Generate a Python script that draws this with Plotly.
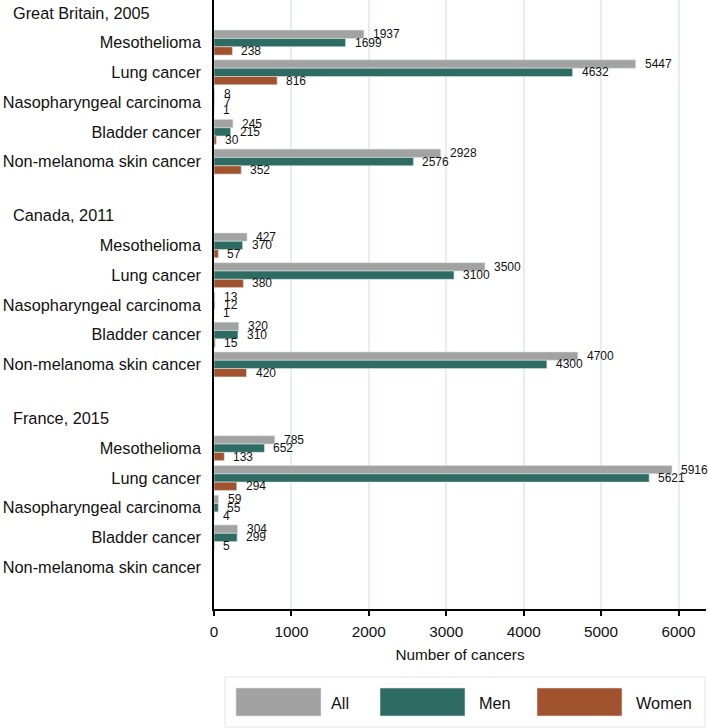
import plotly.graph_objects as go

# ---------------- data ----------------
groups = ["Great Britain, 2005", "Canada, 2011", "France, 2015"]
cancers = ["Mesothelioma", "Lung cancer", "Nasopharyngeal carcinoma",
           "Bladder cancer", "Non-melanoma skin cancer"]
series_names = ["All", "Men", "Women"]
colors = ["#a2a2a2", "#2e6c63", "#a0532e"]

all_gb = [1937, 5447, 8, 245, 2928]
men_gb = [1699, 4632, 7, 215, 2576]
women_gb = [238, 816, 1, 30, 352]

all_ca = [427, 3500, 13, 320, 4700]
men_ca = [370, 3100, 12, 310, 4300]
women_ca = [57, 380, 1, 15, 420]

all_fr = [785, 5916, 59, 304, None]
men_fr = [652, 5621, 55, 299, None]
women_fr = [133, 294, 4, 5, None]

x_ticks = [0, 1000, 2000, 3000, 4000, 5000, 6000]
x_title = "Number of cancers"

# ---------------- layout geometry ----------------
W, H = 709, 728
ML, MR, MT, MB = 214, 3, 0, 119
PW, PH = W - ML - MR, H - MT - MB

first_pos = 42.6      # y-axis units = pixels from top of plot
step = 29.75
period = 202.8
header_off = 30.0
bargap = 0.16
bar_w = step * (1 - bargap) / 3

series_data = [
    [all_gb, all_ca, all_fr],
    [men_gb, men_ca, men_fr],
    [women_gb, women_ca, women_fr],
]

ypos, ynames = [], []
for g in range(len(groups)):
    for i, c in enumerate(cancers):
        ypos.append(first_pos + g * period + i * step)
        ynames.append(c)

fig = go.Figure()
annotations = []
for k, name in enumerate(series_names):
    vals = []
    for g in range(len(groups)):
        vals.extend(series_data[k][g])
    fig.add_trace(go.Bar(
        x=vals, y=ypos, orientation="h", name=name,
        marker=dict(color=colors[k], line=dict(color="#d6e6e6", width=0.6)),
        showlegend=False, hoverinfo="x",
    ))
    for v, p in zip(vals, ypos):
        if v is None:
            continue
        annotations.append(dict(
            x=v, y=p + (k - 1) * bar_w, xref="x", yref="y",
            text=str(v), showarrow=False, xanchor="left", yanchor="middle",
            xshift=7, font=dict(size=12, color="#111111"),
        ))

# group headers
for g, gname in enumerate(groups):
    annotations.append(dict(
        x=(11 - ML) / PW, y=first_pos + g * period - header_off,
        xref="paper", yref="y", text=gname, showarrow=False,
        xanchor="left", yanchor="middle", font=dict(size=16.3, color="#111111"),
    ))

def px(xp):
    return (xp - ML) / PW

def py(yp):
    return (MT + PH - yp) / PH

shapes = []
# legend box
shapes.append(dict(type="rect", xref="paper", yref="paper",
                   x0=px(225), x1=px(705), y0=py(727), y1=py(677),
                   line=dict(color="#e4e4e4", width=1), fillcolor="white"))
sw_x = [236, 380, 537]
tx_x = [329, 477, 634]
for k, name in enumerate(series_names):
    shapes.append(dict(type="rect", xref="paper", yref="paper",
                       x0=px(sw_x[k]), x1=px(sw_x[k] + 85), y0=py(716), y1=py(688),
                       line=dict(color="#e0e0e0", width=0.6), fillcolor=colors[k]))
    annotations.append(dict(x=px(tx_x[k]), y=py(702.5), xref="paper", yref="paper",
                            text=name, showarrow=False, xanchor="left", yanchor="middle",
                            font=dict(size=16.3, color="#111111")))

fig.update_layout(
    width=W, height=H,
    margin=dict(l=ML, r=MR, t=MT, b=MB, pad=0, autoexpand=False),
    barmode="group", bargap=bargap, bargroupgap=0,
    plot_bgcolor="white", paper_bgcolor="white",
    font=dict(family="Liberation Sans, Arial, sans-serif", color="#111111"),
    annotations=annotations, shapes=shapes,
)
fig.update_xaxes(
    range=[0, 6355], tickvals=x_ticks, ticktext=[str(t) for t in x_ticks],
    showgrid=True, gridcolor="#e2eef0", gridwidth=1.5,
    showline=True, linecolor="black", linewidth=1.5,
    ticks="outside", ticklen=5, tickwidth=1.5, tickcolor="black",
    ticklabelstandoff=3,
    tickfont=dict(size=15.3), zeroline=False, automargin=False,
    title=dict(text=x_title, font=dict(size=15.3), standoff=10),
)
fig.update_yaxes(
    range=[PH, 0], tickvals=ypos, ticktext=ynames,
    showgrid=False, zeroline=False, automargin=False,
    showline=True, linecolor="black", linewidth=1.5,
    ticks="", ticklabelstandoff=8, tickfont=dict(size=16.3, color="#111111"),
)

fig.write_html(
    "out.html",
    config={"displayModeBar": False},
    post_script="document.body.style.margin='0';document.body.style.overflow='hidden';",
)
